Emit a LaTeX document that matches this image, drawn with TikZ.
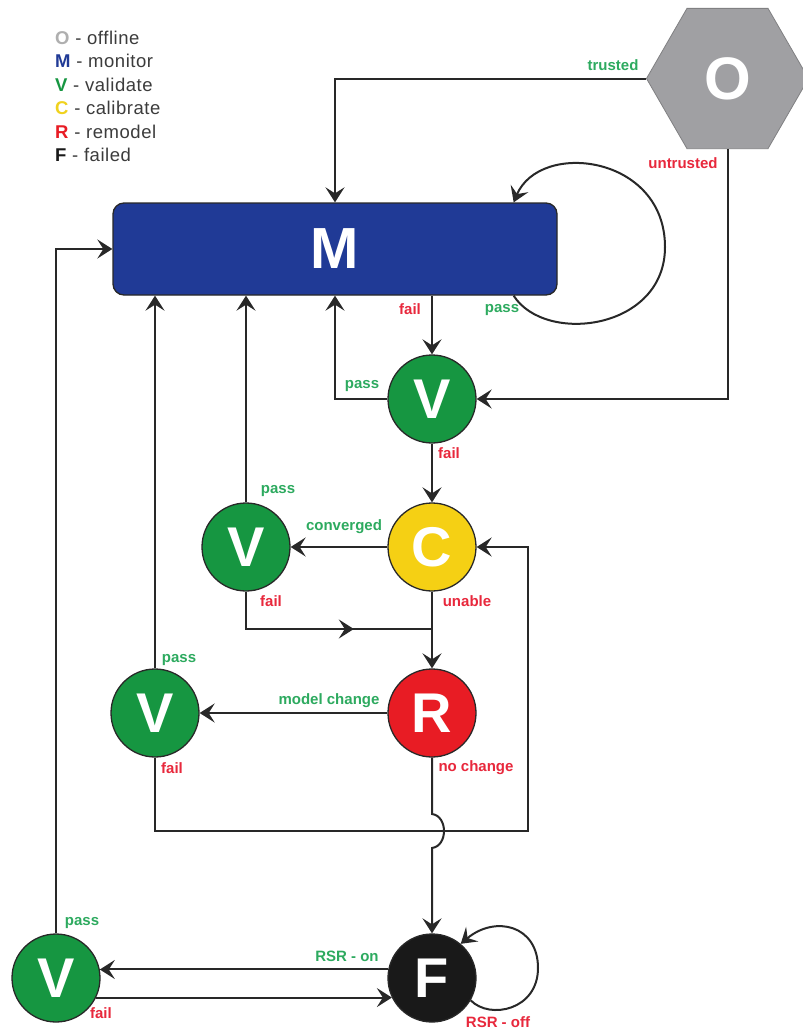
\documentclass[tikz,border=0pt]{standalone}
\usepackage{fontspec}
\setmainfont{Liberation Sans}
\usetikzlibrary{arrows.meta,shapes.geometric,calc,decorations.markings}
\definecolor{mblue}{RGB}{32,58,150}
\definecolor{vgreen}{RGB}{22,150,65}
\definecolor{cyellow}{RGB}{245,208,20}
\definecolor{rred}{RGB}{232,28,36}
\definecolor{fblack}{RGB}{25,25,25}
\definecolor{ogrey}{RGB}{160,160,163}
\definecolor{lgreen}{RGB}{45,170,95}
\definecolor{lred}{RGB}{232,40,60}
\definecolor{linec}{RGB}{40,40,40}
\definecolor{legtext}{RGB}{60,60,60}
\definecolor{legO}{RGB}{175,175,175}
\definecolor{legC}{RGB}{240,210,30}
\tikzset{
  statenode/.style={circle, minimum size=88pt, inner sep=0pt, draw=linec, line width=1.3pt,
    text=white, font=\fontsize{56}{56}\selectfont\bfseries},
  conn/.style={draw=linec, line width=2pt},
  arr/.style={conn, -{Stealth[length=15pt,width=19pt,inset=6pt]}},
  midarr/.style={conn, postaction={decorate}, decoration={markings,
    mark=at position 0.65 with {\arrow[linec]{Stealth[length=15pt,width=19pt,inset=6pt]}}}},
  lab/.style={inner sep=0pt, font=\fontsize{15}{15}\selectfont\bfseries},
  glab/.style={lab, text=lgreen},
  rlab/.style={lab, text=lred},
  legend/.style={anchor=west, inner sep=0pt, text=legtext,
    font=\fontsize{18.5}{19}\selectfont\addfontfeatures{LetterSpace=3}}
}
\begin{document}
\begin{tikzpicture}[x=1pt,y=-1pt]
\useasboundingbox (0,0) rectangle (803,1029);
\fill[white] (0,0) rectangle (803,1029);

% legend
\node[legend] (lg1) at (55,38)  {{\bfseries\color{legO}O} - offline};
\node[legend] (lg2) at (55,61)  {{\bfseries\color{mblue}M} - monitor};
\node[legend] (lg3) at (55,85)  {{\bfseries\color{vgreen}V} - validate};
\node[legend] (lg4) at (55,108) {{\bfseries\color{legC}C} - calibrate};
\node[legend] (lg5) at (55,132) {{\bfseries\color{rred}R} - remodel};
\node[legend] (lg6) at (55,155) {{\bfseries\color{fblack}F} - failed};

% nodes
\node[regular polygon, regular polygon sides=6, minimum size=162pt, inner sep=0pt,
  fill=ogrey, draw=ogrey!80!black, line width=0.8pt, text=white,
  font=\fontsize{60}{60}\selectfont\bfseries] (O) at (727.5,78.5) {O};
\node[rectangle, rounded corners=11pt, minimum width=444pt, minimum height=92pt,
  fill=mblue, draw=linec, line width=1.3pt, text=white,
  font=\fontsize{58}{58}\selectfont\bfseries] (M) at (335,249) {M};
\node[statenode, fill=vgreen] (V1) at (432,399) {V};
\node[statenode, fill=cyellow] (C) at (432,547) {C};
\node[statenode, fill=vgreen] (V2) at (246,547) {V};
\node[statenode, fill=rred] (R) at (432,713) {R};
\node[statenode, fill=vgreen] (V3) at (155,713) {V};
\node[statenode, fill=fblack] (F) at (432,978) {F};
\node[statenode, fill=vgreen] (V4) at (56,978) {V};

\coordinate (lp) at (528,831);
\coordinate (j) at (432,629);

% connectors
\draw[arr] (O.west) -| (M.north);
\draw[arr] (O.south) |- (V1.east);
\draw[arr] ($(M.south east)+(-44,0)$) .. controls (545,345) and (665,330) .. (665,247)
  .. controls (665,155) and (540,140) .. ($(M.north east)+(-44,0)$);
\draw[arr] (M.south -| V1.north) -- (V1.north);
\draw[arr] (V1.west) -| (M.south);
\draw[arr] (V1.south) -- (C.north);
\draw[arr] (C.west) -- (V2.east);
\draw[arr] (V2.north) -- (V2.north |- M.south);
\draw[midarr] (V2.south) |- (j);
\draw[arr] (C.south) -- (R.north);
\draw[arr] (R.west) -- (V3.east);
\draw[arr] (V3.north) -- (V3.north |- M.south);
\draw[arr] (V3.south) |- (lp) |- (C.east);
\draw[arr] (R.south) -- ($(R.south |- lp)+(0,-17)$) .. controls +(16,2) and +(16,-2) .. ($(R.south |- lp)+(0,17)$) -- (F.north);
\draw[arr] (F.-30) .. controls (490,1020) and (538,1010) .. (538,968)
  .. controls (538,925) and (495,915) .. (F.50);
\draw[arr] (F.169) -- (V4.11);
\draw[arr] (V4.-26) -- (F.206);
\draw[arr] (V4.north) |- (M.west);

% labels
\node[glab] (ltr) at (613,65) {trusted};
\node[rlab] (lun) at (683,163) {untrusted};
\node[rlab] (lmf) at (410,309) {fail};
\node[glab] (lmp) at (502,310) {pass};
\node[glab] (lv1p) at (362,386) {pass};
\node[rlab] (lv1f) at (449,453) {fail};
\node[glab] (lv2p) at (278,491) {pass};
\node[glab] (lcon) at (344,527) {converged};
\node[rlab] (lv2f) at (271,601) {fail};
\node[rlab] (lun2) at (467,601) {unable};
\node[glab] (lv3p) at (179,660) {pass};
\node[glab] (lmc) at (329,701) {model change};
\node[rlab] (lv3f) at (172,768) {fail};
\node[rlab] (lnc) at (476,768) {no change};
\node[glab] (lv4p) at (82,923) {pass};
\node[glab] (lon) at (347,956) {RSR - on};
\node[rlab] (lv4f) at (101,1013) {fail};
\node[rlab] (loff) at (498,1022) {RSR - off};
\end{tikzpicture}
\end{document}
